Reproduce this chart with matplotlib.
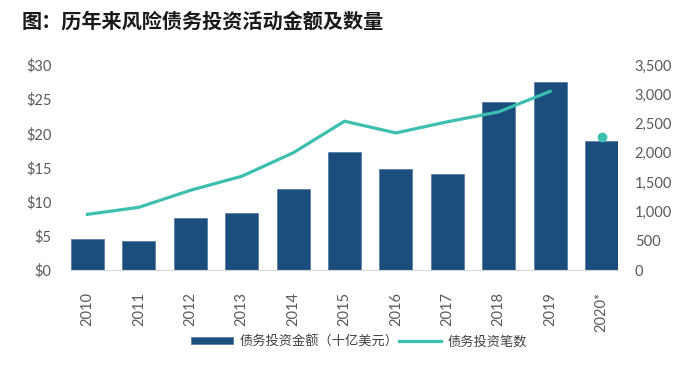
import numpy as np
import matplotlib.pyplot as plt
from matplotlib.ticker import FuncFormatter

plt.rcParams['font.family'] = ['Lato', 'Noto Sans CJK SC', 'DejaVu Sans']

# Data
years = ['2010', '2011', '2012', '2013', '2014', '2015', '2016', '2017', '2018', '2019', '2020*']
amount = [4.5, 4.2, 7.6, 8.3, 11.9, 17.2, 14.8, 14.1, 24.6, 27.5, 18.9]   # billion USD
deals = [950, 1070, 1360, 1600, 2000, 2540, 2340, 2530, 2700, 3050]       # 2010-2019
deals_2020 = 2270

bar_color = '#1B4D7D'
line_color = '#3DBFAF'
text_color = '#595959'

fig = plt.figure(figsize=(7, 3.65), dpi=100)
ax = fig.add_axes([71 / 700, 1 - 270 / 365, 547 / 700, 205 / 365])
ax2 = ax.twinx()

x = np.arange(len(years))
ax.bar(x, amount, width=0.64, color=bar_color, edgecolor='#5A7FA3', linewidth=0.6,
       label='债务投资金额（十亿美元）', zorder=2)
ax2.plot(x[:len(deals)], deals, color=line_color, lw=2.3, label='债务投资笔数', zorder=3)
ax2.plot([x[-1]], [deals_2020], 'o', color=line_color, ms=6, zorder=3)

ax.set_xlim(-0.32, len(years) - 1 + 0.32)
ax.set_ylim(0, 30)
ax2.set_ylim(0, 3500)
ax.set_yticks(np.arange(0, 31, 5))
ax2.set_yticks(np.arange(0, 3501, 500))
ax.yaxis.set_major_formatter(FuncFormatter(lambda v, p: f'${v:.0f}'))
ax2.yaxis.set_major_formatter(FuncFormatter(lambda v, p: f'{v:,.0f}'))
ax.set_xticks(x)
ax.set_xticklabels(years, rotation=90)

for a in (ax, ax2):
    for s in a.spines.values():
        s.set_visible(False)
    a.tick_params(length=0, labelsize=10.5, colors=text_color)
ax.spines['bottom'].set_visible(True)
ax.spines['bottom'].set_color('#D9D9D9')
ax.tick_params(axis='y', pad=14)
ax.tick_params(axis='x', pad=16)
ax2.tick_params(axis='y', pad=12)
ax.set_zorder(1)
ax2.set_zorder(2)
ax2.patch.set_visible(False)

fig.text(22 / 700, 1 - 21 / 365, '图：历年来风险债务投资活动金额及数量', fontsize=14.5,
         fontweight='bold', family=['Noto Sans CJK SC'], va='center', ha='left', color='#1A1A1A')

h1, l1 = ax.get_legend_handles_labels()
h2, l2 = ax2.get_legend_handles_labels()
leg = fig.legend(h1 + h2, l1 + l2, loc='center', bbox_to_anchor=(0.513, 1 - 342 / 365), ncol=2,
                 frameon=False, handlelength=3.2, handleheight=0.45,
                 columnspacing=0.0, handletextpad=0.5,
                 prop={'family': ['Noto Sans CJK SC'], 'size': 9.5})
for t in leg.get_texts():
    t.set_color('#404040')

fig.savefig('out.png', dpi=100)
